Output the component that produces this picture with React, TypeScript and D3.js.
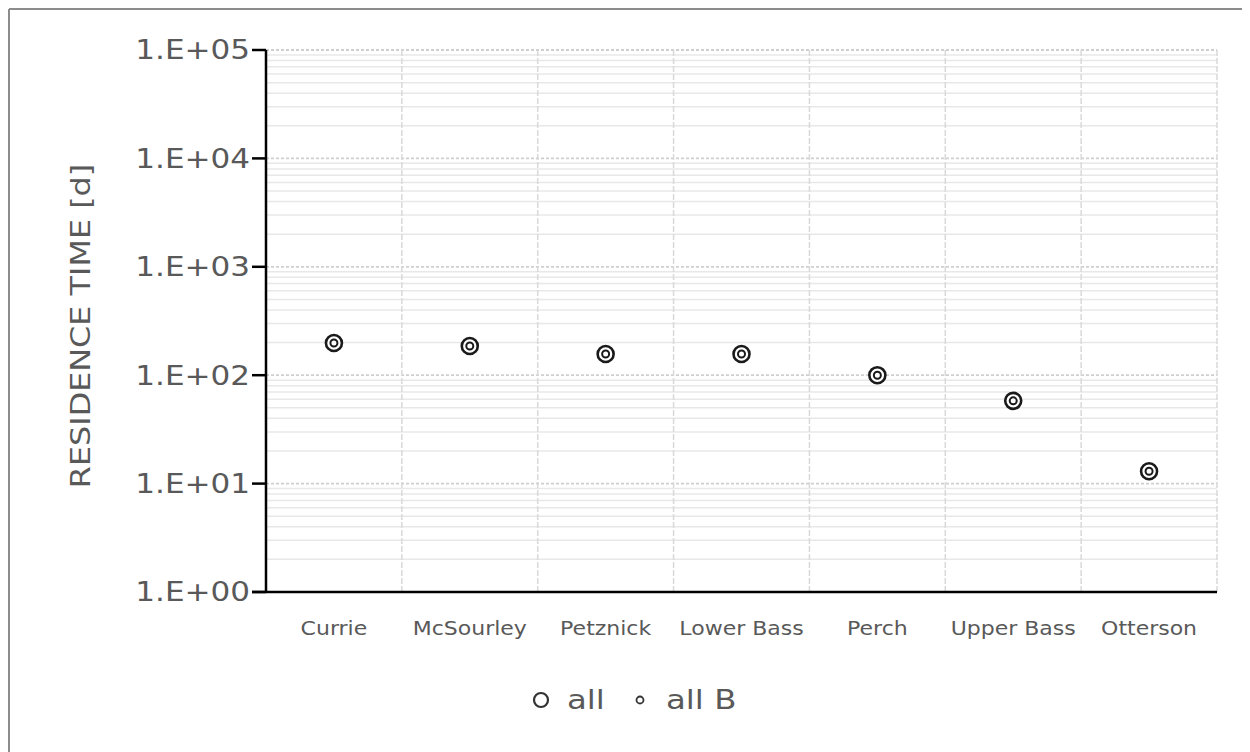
import React from "react";
import * as d3 from "d3";

const categories = ["Currie", "McSourley", "Petznick", "Lower Bass", "Perch", "Upper Bass", "Otterson"];
const allValues = [198, 186, 157, 157, 100, 58, 13];
const allBValues = [198, 186, 157, 157, 100, 58, 13];
const yTickValues = [1, 10, 100, 1000, 10000, 100000];
const yTickLabels = ["1.E+00", "1.E+01", "1.E+02", "1.E+03", "1.E+04", "1.E+05"];
const seriesNames = ["all", "all B"];

const W = 1242;
const H = 744;
const M = { left: 258, right: 1209, top: 42, bottom: 584 };
const FONT = "'DejaVu Sans', sans-serif";
const TEXT = "#595959";

export default function App() {
  const x = d3.scaleBand<string>().domain(categories).range([M.left, M.right]).padding(0);
  const y = d3.scaleLog().domain([1, 100000]).range([M.bottom, M.top]);

  const minor: number[] = [];
  for (let d = 0; d < 5; d++) {
    for (let k = 2; k <= 9; k++) minor.push(k * Math.pow(10, d));
  }
  const cx = (i: number) => (x(categories[i]) as number) + x.bandwidth() / 2;

  return (
    <svg width={W} height={H} style={{ display: "block" }} fontFamily={FONT}>
      <rect x={0} y={0} width={W} height={H} fill="#fff" />
      <line x1={1} y1={1} x2={W} y2={1} stroke="#8c8c8c" strokeWidth={2} />
      <line x1={1} y1={1} x2={1} y2={H} stroke="#8c8c8c" strokeWidth={2} />
      {/* minor gridlines */}
      {minor.map((v, i) => (
        <line key={"m" + i} x1={M.left} x2={M.right} y1={y(v)} y2={y(v)} stroke="#e8e8e8" strokeWidth={1.5} />
      ))}
      {/* major gridlines */}
      {yTickValues.slice(1).map((v, i) => (
        <line key={"g" + i} x1={M.left} x2={M.right} y1={y(v)} y2={y(v)} stroke="#cfcfcf" strokeWidth={1.8} strokeDasharray="3,2" />
      ))}
      {/* vertical gridlines */}
      {categories.map((c, i) => (
        <line key={"v" + i} x1={(x(c) as number) + x.bandwidth()} x2={(x(c) as number) + x.bandwidth()} y1={M.top} y2={M.bottom} stroke="#d9d9d9" strokeWidth={1.5} strokeDasharray="6,2" />
      ))}
      {/* axes */}
      <line x1={M.left} x2={M.left} y1={M.top} y2={M.bottom} stroke="#000" strokeWidth={2.5} />
      <line x1={M.left - 14} x2={M.right} y1={M.bottom} y2={M.bottom} stroke="#000" strokeWidth={2.5} />
      {yTickValues.map((v, i) => (
        <g key={"t" + i}>
          <line x1={M.left - 14} x2={M.left} y1={y(v)} y2={y(v)} stroke="#000" strokeWidth={2.5} />
          <text transform={`translate(${M.left - 16},${y(v)}) scale(1.15,1)`} dy="0.35em" textAnchor="end" fontSize={27} fill={TEXT}>{yTickLabels[i]}</text>
        </g>
      ))}
      {categories.map((c, i) => (
        <text key={"c" + i} transform={`translate(${cx(i)},620) scale(1.1,1)`} dy="0.35em" textAnchor="middle" fontSize={20} fill={TEXT}>{c}</text>
      ))}
      <text transform={`translate(82,${(M.top + M.bottom) / 2 + 5}) rotate(-90) scale(1.18,1)`} textAnchor="middle" fontSize={27} fill={TEXT}>RESIDENCE TIME [d]</text>
      {/* series all */}
      {allValues.map((v, i) => (
        <circle key={"a" + i} cx={cx(i)} cy={y(v)} r={8} fill="#fff" stroke="#1a1a1a" strokeWidth={2.6} />
      ))}
      {/* series all B */}
      {allBValues.map((v, i) => (
        <circle key={"b" + i} cx={cx(i)} cy={y(v)} r={3.5} fill="#fff" stroke="#1a1a1a" strokeWidth={2} />
      ))}
      {/* legend */}
      <circle cx={533} cy={692} r={7} fill="#fff" stroke="#333" strokeWidth={2.2} />
      <text transform="translate(559,692) scale(1.2,1)" dy="0.35em" fontSize={27} fill={TEXT}>{seriesNames[0]}</text>
      <circle cx={632} cy={692} r={3.5} fill="#fff" stroke="#333" strokeWidth={1.8} />
      <text transform="translate(658,692) scale(1.2,1)" dy="0.35em" fontSize={27} fill={TEXT}>{seriesNames[1]}</text>
    </svg>
  );
}
